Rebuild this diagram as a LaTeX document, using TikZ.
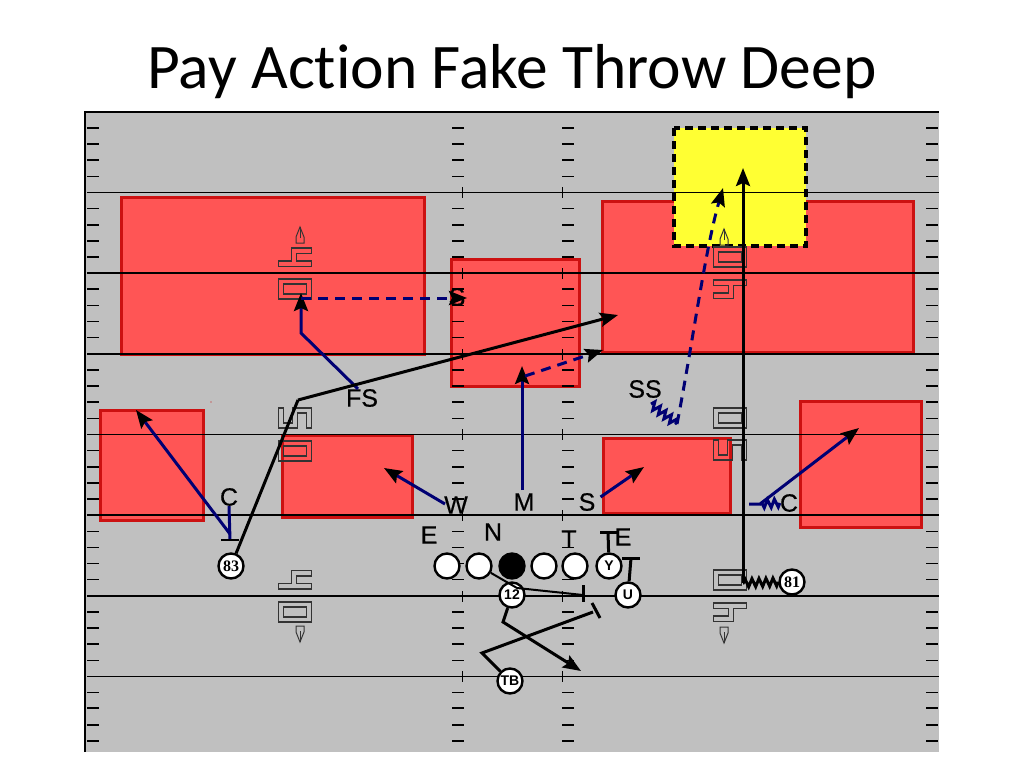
\documentclass[tikz,border=0pt]{standalone}
\usepackage{fontspec}
\setmainfont[Ligatures=NoCommon]{Carlito}
\newfontfamily\markfont{Liberation Sans}
\newfontfamily\tagfont[RawFeature={embolden=0.5}]{Liberation Sans}
\newfontfamily\numfont{Liberation Serif}
\usetikzlibrary{arrows.meta}
\usetikzlibrary{decorations.pathmorphing}
\definecolor{fieldColor}{RGB}{192,192,192}
\definecolor{zoneColor}{RGB}{255,85,85}
\definecolor{zoneEdge}{RGB}{204,17,17}
\definecolor{deepColor}{RGB}{255,255,51}
\colorlet{penColor}{blue!45!black}
\tikzset{
  >={Stealth[length=18pt,width=14pt,inset=3pt,color=black]},
  zone/.style={fill=zoneColor,draw=zoneEdge,line width=3pt},
  player/.style={circle,draw=black,fill=white,line width=2.4pt,minimum size=25pt,inner sep=0pt,font=\markfont\bfseries\fontsize{14}{14}\selectfont},
  tag/.style={inner sep=0pt,text=black,font=\tagfont\fontsize{25}{25}\selectfont},
  blue route/.style={penColor,line width=3pt},
  black route/.style={black,line width=3pt},
  blue dash/.style={penColor,line width=3pt,dash pattern=on 10pt off 7pt},
  wiggle/.style={decorate,decoration={zigzag,segment length=7pt,amplitude=4pt}},
  glyph/.style={draw=black!80,line width=1.5pt},
  pics/boxmark/.style={code={
    \draw[glyph] (-16.5,-10) rectangle (16.5,10);
    \draw[glyph] (-11.5,-5) rectangle (11.5,5);}},
  pics/stepmark/.style={code={
    \draw[glyph,shift={(-16.5,-9.5)}] (0,18.5) -- (33,18.5) -- (33,13) -- (18,13) -- (18,5.5) -- (33,5.5) -- (33,0) -- (13,0) -- (13,13) -- (0,13) -- cycle;}},
  pics/snakemark/.style={code={
    \draw[glyph,shift={(-16.5,-10)}] (0,0) -- (5,0) -- (5,15) -- (14,15) -- (14,0) -- (33,0) -- (33,20) -- (28,20) -- (28,5) -- (19,5) -- (19,20) -- (0,20) -- cycle;}},
  pics/spikemark/.style={code={
    \draw[draw=black!80,line width=1pt] (-4,0) -- (-4,-6) -- (0,-16) -- (4,-6) -- (4,0) -- cycle;
    \draw[draw=black!80,line width=1pt] (0,-5) -- (0,-16);}},
}

\begin{document}
\begin{tikzpicture}[x=1pt,y=-1pt]
	\useasboundingbox (0,0) rectangle (1024,768);
	\node (title) at (512,72) {\fontsize{63.5}{70}\selectfont Pay Action Fake Throw Deep};
	
	% field
	\fill[fieldColor] (85,112) rectangle (939,752);
	\draw[black,line width=2pt] (85,752) -- (85,112) -- (939,112);
	
	% zones
	\draw[zone] (121,197) rectangle (424,354);
	\draw[zone] (451,259) rectangle (579,386);
	\draw[zone] (602,201) rectangle (913,352);
	\draw[zone] (100,410) rectangle (203,520);
	\draw[zone] (282,435) rectangle (412,517);
	\draw[zone] (603,438) rectangle (730,513);
	\draw[zone] (800,401) rectangle (921,527);
	\draw[fill=deepColor,draw=black,line width=3.5pt,dash pattern=on 8pt off 5pt] (674,128) rectangle (806,246);
	
	% yard lines and hash marks
	\foreach \y in {192,434,676} \draw[black,line width=1pt] (87,\y) -- (939,\y);
	\foreach \y in {273,354,515,596} \draw[black,line width=1.8pt] (87,\y) -- (939,\y);
	\foreach \x in {87,452,562,926} {
		\foreach \y in {128,144,160,225,241,257,289,370,386,402,467,483,499,612,628,644,708,725,741}
			\draw[black,line width=1.8pt] (\x,\y) -- ++(12,0);
		\foreach \y in {176,208,305,321,337,418,450,531,547,563,579,660,692}
			\draw[black,line width=1pt] (\x,\y) -- ++(12,0);
	}
	\foreach \x in {462,562} {
		\foreach \y in {192,273,354,434,515,596,676}
			\draw[black,line width=.8pt] (\x,\y-5) -- (\x,\y+6);
	}
	\fill[zoneEdge] (211,402) circle [radius=.7];
	
	% coverage marks
	\pic at (300,243) {spikemark};
	\pic at (295,257.5) {stepmark};
	\pic at (295,289) {boxmark};
	\pic at (295,418) {snakemark};
	\pic at (295,451) {boxmark};
	\pic at (295,580) {stepmark};
	\pic at (295,612) {boxmark};
	\pic at (300,626) [rotate=180] {spikemark};
	\pic at (724,245) {spikemark};
	\pic at (730,257) {boxmark};
	\pic at (730,289) [rotate=180] {stepmark};
	\pic at (730,418) {boxmark};
	\pic at (730,450) {snakemark};
	\pic at (730,580) {boxmark};
	\pic at (730,612) [rotate=180] {stepmark};
	\pic at (724,627) [rotate=180] {spikemark};
	
	% defence
	\node[tag] (sFS) at (362,398) {FS};
	\node[tag] (sSS) at (645,389) {SS};
	\node[tag] (sC) at (229,497) {C};
	\node[tag] (sW) at (456,505) {W};
	\node[tag] (sM) at (524,502) {M};
	\node[tag] (sS) at (587,502) {S};
	\node[tag] (sCR) at (789,503) {C};
	\node[tag] (sE) at (429,535) {E};
	\node[tag] (sN) at (493,532) {N};
	\node[tag] (sT) at (569,539) {T};
	\node[tag] (sER) at (623,537) {E};
	\node[tag] (sSM) at (457,297) {S};
	
	% offence
	\node[player] (pLT) at (447,566) {};
	\node[player] (pLG) at (479,566) {};
	\node[player,fill=black] (pCN) at (512,566) {};
	\node[player] (pRG) at (544,566) {};
	\node[player] (pRT) at (575,566) {};
	\node[player] (pY) at (609,566) {Y};
	\node[player] (pU) at (628,595) {U};
	\node[player] (p12) at (512,595) {12};
	\node[player] (pTB) at (510,681) {TB};
	\node[player,font=\numfont\bfseries\fontsize{16}{16}\selectfont] (p83) at (231,566) {83};
	\node[player,font=\numfont\bfseries\fontsize{16}{16}\selectfont] (p81) at (792,582) {81};
	
	% defence routes
	\coordinate (cBlock) at (230,540);
	\coordinate (cCorner) at (136,410);
	\coordinate (cWEnd) at (384,468);
	\coordinate (cMEnd) at (522,366);
	\coordinate (cMDrop) at (603,350);
	\coordinate (cFSBend) at (301,333);
	\coordinate (cFSEnd) at (301,293);
	\coordinate (cFSDrop) at (467,298);
	\coordinate (cSEnd) at (644,467);
	\coordinate (cRStart) at (749,504);
	\coordinate (cRKink) at (760,504);
	\coordinate (cREnd) at (859,428);
	\coordinate (cSSA) at (651,404);
	\coordinate (cSSB) at (677,424);
	\coordinate (cSSEnd) at (723,188);
	\draw[blue route] (sC.south) -- (cBlock);
	\draw[blue route,->] (cBlock) ++(0,-6) -- (cCorner);
	\draw[black,line width=2.4pt] (221,540) -- (239,540);
	\draw[blue route,->] (sW.west) ++(1,-1) -- (cWEnd);
	\draw[blue route,->] (522,490) -- (cMEnd);
	\draw[blue dash,->] (525,376) -- (cMDrop);
	\draw[blue route,->] (sFS.north) ++(-4,0) -- (cFSBend) -- (cFSEnd);
	\draw[blue dash,->] (cFSEnd) ++(0,5) -- (cFSDrop);
	\draw[blue route,->] (sS.east) ++(5,-5) -- (cSEnd);
	\draw[blue route,wiggle] (sCR.west) -- (cRKink);
	\draw[blue route,->] (cRStart) -- (cRKink) -- (cREnd);
	\draw[blue route,wiggle] (cSSA) -- (cSSB);
	\draw[blue dash,->] (cSSB) .. controls (692,347) and (705,250) .. (cSSEnd);
	
	% offence routes
	\coordinate (cPostBend) at (298,400);
	\coordinate (cPostEnd) at (618,315);
	\coordinate (cGoBend) at (743,583);
	\coordinate (cGoEnd) at (743,168);
	\coordinate (cQBBend) at (503,622);
	\coordinate (cQBEnd) at (581,671);
	\coordinate (cTBBend) at (482,653);
	\coordinate (cTBEnd) at (593,612);
	\coordinate (cGuardA) at (517,588);
	\coordinate (cGuardB) at (583,595);
	\draw[black route] (p83) -- (cPostBend);
	\draw[black route,->] (cPostBend) -- (cPostEnd);
	\draw[black route,wiggle] (p81.west) -- (cGoBend);
	\draw[black route,->] (cGoBend) -- (cGoEnd);
	\draw[black route,->] (p12) -- (cQBBend) -- (cQBEnd);
	\draw[black route] (pTB) -- (cTBBend) -- (cTBEnd);
	\draw[black route] (592,603) -- (600,618);
	\draw[black,line width=2pt] (pLG) -- (cGuardA) -- (cGuardB);
	\draw[black route] (583,585) -- (583,602);
	\draw[black route] (pY) -- (608,532);
	\draw[black route] (600,532) -- (618,532);
	\draw[black route] (pU) -- (631,558);
	\draw[black route] (622,558) -- (640,558);
\end{tikzpicture}
\end{document}
